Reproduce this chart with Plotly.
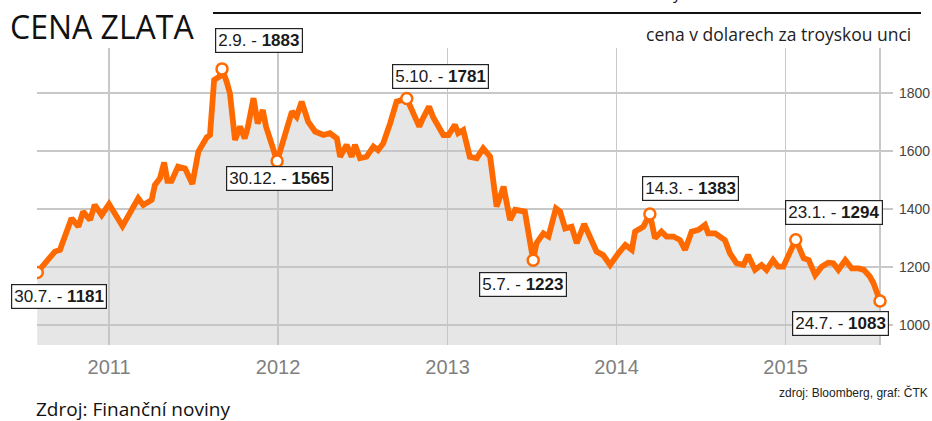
import plotly.graph_objects as go

# ---- data ----
dates = [
    "2010-07-30", "2010-09-06", "2010-09-17", "2010-10-12", "2010-10-27", "2010-11-06",
    "2010-11-21", "2010-12-01", "2010-12-16", "2011-01-01", "2011-01-30", "2011-03-05",
    "2011-03-16", "2011-04-03", "2011-04-10", "2011-04-21", "2011-04-30", "2011-05-07",
    "2011-05-16", "2011-05-30", "2011-06-14", "2011-06-30", "2011-07-13", "2011-07-31",
    "2011-08-07", "2011-08-16", "2011-08-27", "2011-09-02", "2011-09-12", "2011-09-19",
    "2011-09-30", "2011-10-11", "2011-10-21", "2011-10-28", "2011-11-09", "2011-11-18",
    "2011-11-29", "2011-12-06", "2011-12-30", "2012-01-31", "2012-02-10", "2012-02-21",
    "2012-03-06", "2012-03-21", "2012-04-08", "2012-04-22", "2012-05-07", "2012-05-14",
    "2012-05-28", "2012-06-08", "2012-06-15", "2012-06-26", "2012-07-10", "2012-07-25",
    "2012-08-04", "2012-08-15", "2012-08-30", "2012-09-13", "2012-10-05", "2012-10-15",
    "2012-11-01", "2012-11-09", "2012-11-22", "2012-12-01", "2012-12-16", "2012-12-23",
    "2013-01-03", "2013-01-17", "2013-01-24", "2013-02-04", "2013-02-18", "2013-03-05",
    "2013-03-19", "2013-04-03", "2013-04-17", "2013-05-02", "2013-05-16", "2013-05-27",
    "2013-06-17", "2013-07-05", "2013-07-12", "2013-07-27", "2013-08-07", "2013-08-23",
    "2013-09-01", "2013-09-12", "2013-09-26", "2013-10-07", "2013-10-23", "2013-11-05",
    "2013-11-19", "2013-12-03", "2013-12-18", "2014-01-05", "2014-01-20", "2014-02-03",
    "2014-02-10", "2014-02-28", "2014-03-14", "2014-03-25", "2014-04-08", "2014-04-19",
    "2014-05-04", "2014-05-18", "2014-05-29", "2014-06-12", "2014-06-27", "2014-07-11",
    "2014-07-18", "2014-08-02", "2014-08-13", "2014-08-23", "2014-09-03", "2014-09-17",
    "2014-10-02", "2014-10-12", "2014-10-27", "2014-11-10", "2014-11-21", "2014-12-05",
    "2014-12-16", "2014-12-27", "2015-01-23", "2015-01-29", "2015-02-09", "2015-02-20",
    "2015-03-06", "2015-03-20", "2015-04-03", "2015-04-14", "2015-04-25", "2015-05-10",
    "2015-05-24", "2015-06-08", "2015-06-19", "2015-07-02", "2015-07-10", "2015-07-24",
]
prices = [
    1181, 1253, 1259, 1368, 1339, 1391,
    1362, 1414, 1379, 1417, 1341, 1437,
    1414, 1431, 1483, 1506, 1560, 1497,
    1497, 1546, 1540, 1486, 1598, 1647,
    1655, 1845, 1856, 1883, 1839, 1799,
    1638, 1684, 1643, 1684, 1782, 1695,
    1741, 1684, 1565, 1736, 1718, 1770,
    1701, 1667, 1655, 1661, 1643, 1580,
    1621, 1580, 1621, 1575, 1580, 1615,
    1603, 1626, 1695, 1770, 1781, 1741,
    1684, 1713, 1753, 1716, 1676, 1655,
    1655, 1690, 1661, 1672, 1580, 1575,
    1609, 1580, 1408, 1477, 1362, 1397,
    1391, 1223, 1282, 1316, 1305, 1402,
    1391, 1333, 1339, 1282, 1348, 1305,
    1253, 1241, 1207, 1247, 1276, 1259,
    1322, 1339, 1383, 1299, 1322, 1305,
    1305, 1293, 1259, 1322, 1328, 1345,
    1316, 1316, 1305, 1293, 1247, 1213,
    1207, 1241, 1190, 1207, 1190, 1224,
    1201, 1201, 1294, 1270, 1230, 1224,
    1172, 1201, 1215, 1213, 1190, 1224,
    1195, 1195, 1190, 1167, 1144, 1083,
]

# highlighted points
ann_dates = ["2010-07-30", "2011-09-02", "2011-12-30", "2012-10-05",
             "2013-07-05", "2014-03-14", "2015-01-23", "2015-07-24"]
ann_values = [1181, 1883, 1565, 1781, 1223, 1383, 1294, 1083]
ann_days = ["30.7.", "2.9.", "30.12.", "5.10.", "5.7.", "14.3.", "23.1.", "24.7."]
ann_shift = [(22, -24), (37, 28), (2, -17), (34, 22), (-10, -24), (41, 25), (38, 27), (-40, -23)]

year_ticks = ["2011-01-01", "2012-01-01", "2013-01-01", "2014-01-01", "2015-01-01"]
year_labels = ["2011", "2012", "2013", "2014", "2015"]
y_ticks = [1000, 1200, 1400, 1600, 1800]

ORANGE = "#ff6a00"
NARROW = "Liberation Sans Narrow, Arial Narrow, Liberation Sans, Arial, sans-serif"
CAL = "Open Sans, Lato, sans-serif"

fig = go.Figure()

fig.add_trace(go.Scatter(
    x=dates, y=prices, mode="lines",
    line=dict(color=ORANGE, width=5.8, shape="linear"),
    fill="tozeroy", fillcolor="rgba(195,195,195,0.42)",
    hoverinfo="skip", showlegend=False,
))
fig.add_trace(go.Scatter(
    x=ann_dates, y=ann_values, mode="markers",
    marker=dict(size=11, color="white", line=dict(color=ORANGE, width=2.5)),
    hoverinfo="skip", showlegend=False,
))

annotations = []
for d, v, lab, (dx, dy) in zip(ann_dates, ann_values, ann_days, ann_shift):
    annotations.append(dict(
        x=d, y=v, xref="x", yref="y", showarrow=False,
        text=f"{lab} - <b>{v}</b>",
        xshift=dx, yshift=dy,
        font=dict(family=NARROW, size=17, color="#1a1a1a"),
        bgcolor="white", bordercolor="#222222", borderwidth=1.2, borderpad=2,
    ))

# titles & texts (paper coords: plot spans px x 37..893, y 48..345)
def px_x(px):
    return (px - 37) / 856.0

def px_y(py):
    return (345 - py) / 297.0

annotations += [
    dict(text="CENA ZLATA", xref="paper", yref="paper", x=px_x(8), y=px_y(27),
         xanchor="left", yanchor="middle", showarrow=False,
         font=dict(family=CAL, size=32, color="#111111")),
    dict(text="cena v dolarech za troyskou unci", xref="paper", yref="paper",
         x=px_x(913), y=px_y(34), xanchor="right", yanchor="middle", showarrow=False,
         font=dict(family=CAL, size=17.5, color="#222222")),
    dict(text="zdroj: Bloomberg, graf: ČTK", xref="paper", yref="paper",
         x=px_x(930), y=px_y(392), xanchor="right", yanchor="middle", showarrow=False,
         font=dict(family=NARROW, size=12, color="#222222")),
    dict(text="Zdroj: Finanční noviny", xref="paper", yref="paper",
         x=px_x(34), y=px_y(409), xanchor="left", yanchor="middle", showarrow=False,
         font=dict(family=CAL, size=19, color="#111111")),
    dict(text="y", xref="paper", yref="paper",
         x=px_x(677), y=px_y(-7), xanchor="center", yanchor="middle", showarrow=False,
         font=dict(family=CAL, size=16, color="#111111")),
]

fig.update_layout(
    width=932, height=421,
    margin=dict(l=37, r=39, t=48, b=76),
    paper_bgcolor="white", plot_bgcolor="white",
    annotations=annotations,
    shapes=[dict(type="line", xref="paper", yref="paper",
                 x0=px_x(213), x1=px_x(921), y0=px_y(13), y1=px_y(13),
                 line=dict(color="#111111", width=2))],
    xaxis=dict(
        type="date",
        range=["2010-07-29 10:00", "2015-08-21"],
        tickmode="array",
        tickvals=["2010-07-30"] + year_ticks + ["2015-07-24"],
        ticktext=[""] + year_labels + [""],
        showgrid=True, gridcolor="#c8c8c8", gridwidth=1.3,
        zeroline=False, showline=False, ticks="",
        tickfont=dict(family=NARROW, size=20, color="#7f7f7f"),
        ticklabelstandoff=8,
        automargin=False,
    ),
    yaxis=dict(
        side="right",
        range=[931, 1955],
        tickmode="array", tickvals=y_ticks,
        showgrid=True, gridcolor="#c8c8c8", gridwidth=1.3,
        zeroline=False, showline=False, ticks="",
        tickfont=dict(family=NARROW, size=14, color="#444444"),
        ticklabelstandoff=5,
        automargin=False,
    ),
)

fig.write_html(
    "out.html",
    config={"displayModeBar": False, "staticPlot": True},
    post_script="document.body.style.margin='0';document.body.style.overflow='hidden';",
)
